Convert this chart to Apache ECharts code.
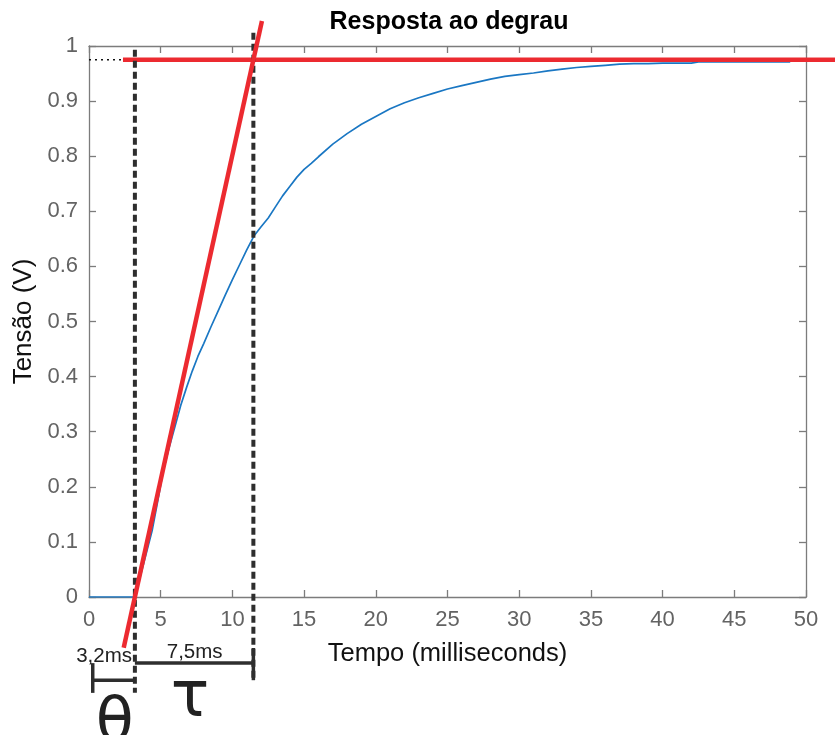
<!DOCTYPE html>
<html>
<head>
<meta charset="utf-8">
<script src="https://cdn.jsdelivr.net/npm/echarts@6/dist/echarts.min.js"></script>
<style>
  html, body { margin: 0; padding: 0; background: #ffffff; }
  #chart { width: 835px; height: 735px; }
</style>
</head>
<body>
<div id="chart"></div>
<script>
// Step response of the plant, sampled voltage (V) against time (ms)
const timeMs = [0, 3.2, 3.6, 4.0, 4.4, 4.8, 5.2, 5.6, 6.0, 6.4, 6.8, 7.2, 7.6, 8.0, 8.5, 9.0, 9.5,
  10.0, 10.5, 11.0, 11.5, 12.0, 12.5, 13.0, 13.5, 14.0, 14.5, 15.0, 15.5, 16.0, 17.0, 18.0, 19.0,
  20.0, 21.0, 22.0, 23.0, 24.0, 25.0, 26.0, 27.0, 28.0, 29.0, 30.0, 31.0, 32.0, 33.0, 34.0, 35.0,
  36.0, 37.0, 38.0, 39.0, 40.0, 41.0, 42.0, 42.5, 44.0, 46.0, 48.9];
const voltage = [0, 0, 0.04, 0.08, 0.12, 0.175, 0.232, 0.272, 0.31, 0.348, 0.38, 0.41, 0.437, 0.46, 0.49, 0.519, 0.548,
  0.576, 0.603, 0.630, 0.655, 0.672, 0.688, 0.708, 0.728, 0.745, 0.762, 0.776, 0.787, 0.799, 0.822, 0.841, 0.858,
  0.872, 0.886, 0.897, 0.906, 0.914, 0.922, 0.928, 0.934, 0.940, 0.945, 0.948, 0.951, 0.955, 0.958, 0.961, 0.963,
  0.965, 0.967, 0.968, 0.968, 0.969, 0.969, 0.969, 0.971, 0.971, 0.971, 0.971];

// Tangent method parameters
const theta = 3.2;            // dead time (ms)
const steadyState = 0.975;    // final value (V)
const tangentSlope = 0.118;   // slope of the tangent at the inflection (V/ms)
const tangentRange = [2.42, 12.06];
const steadyStart = 2.37;     // where the final value line begins (ms)
const thetaLabel = '3,2ms';
const tauLabel = '7,5ms';

// Axis ticks
const xTicks = [0, 5, 10, 15, 20, 25, 30, 35, 40, 45, 50];
const yTicks = [0, 0.1, 0.2, 0.3, 0.4, 0.5, 0.6, 0.7, 0.8, 0.9, 1];

const tauEnd = theta + steadyState / tangentSlope;
const tangentAt = x => tangentSlope * (x - theta);
const xMax = xTicks[xTicks.length - 1];

const FONT = '"Liberation Sans", Arial, Helvetica, sans-serif';
const SYMBOL_FONT = '"DejaVu Sans", "Liberation Sans", sans-serif';
const chart = echarts.init(document.getElementById('chart'), null, { renderer: 'canvas' });

const axisGray = '#7c7c7c';
const labelGray = '#636363';
const darkDash = '#2e2e2e';
const red = '#ec2a30';

function seg(points, style, z) {
  return {
    type: 'line', data: points, showSymbol: false, symbol: 'none', clip: false,
    silent: true, z: z, lineStyle: style, animation: false
  };
}

const option = {
  animation: false,
  backgroundColor: '#ffffff',
  title: {
    text: 'Resposta ao degrau',
    left: 444, top: 5, textAlign: 'center',
    textStyle: { fontFamily: FONT, fontWeight: 'bold', fontSize: 25, color: '#000' }
  },
  grid: { left: 89, top: 46, right: 29, bottom: 138, containLabel: false },
  xAxis: [{
    type: 'value', min: xTicks[0], max: xMax, interval: 5,
    name: 'Tempo (milliseconds)', nameLocation: 'middle', nameGap: 44,
    nameTextStyle: { fontFamily: FONT, fontSize: 25.5, color: '#111' },
    axisLine: { show: true, onZero: false, lineStyle: { color: axisGray, width: 1.3 } },
    axisTick: { show: true, inside: true, length: 7, lineStyle: { color: axisGray, width: 1.3 } },
    axisLabel: { fontFamily: FONT, fontSize: 22, color: labelGray, margin: 12 },
    splitLine: { show: false }
  }, {
    type: 'value', position: 'top', min: xTicks[0], max: xMax, interval: 5,
    axisLine: { show: true, onZero: false, lineStyle: { color: axisGray, width: 1.3 } },
    axisTick: { show: true, inside: true, length: 7, lineStyle: { color: axisGray, width: 1.3 } },
    axisLabel: { show: false }, splitLine: { show: false }
  }],
  yAxis: [{
    type: 'value', min: yTicks[0], max: yTicks[yTicks.length - 1], interval: 0.1,
    name: 'Tensão (V)', nameLocation: 'middle', nameGap: 52, nameMoveOverlap: false,
    nameTextStyle: { fontFamily: FONT, fontSize: 26, color: '#111' },
    axisLine: { show: true, onZero: false, lineStyle: { color: axisGray, width: 1.3 } },
    axisTick: { show: true, inside: true, length: 7, lineStyle: { color: axisGray, width: 1.3 } },
    axisLabel: {
      fontFamily: FONT, fontSize: 22, color: labelGray, margin: 11,
      formatter: v => (Math.round(v * 10) / 10).toString()
    },
    splitLine: { show: false }
  }, {
    type: 'value', position: 'right', min: yTicks[0], max: yTicks[yTicks.length - 1], interval: 0.1,
    axisLine: { show: true, onZero: false, lineStyle: { color: axisGray, width: 1.3 } },
    axisTick: { show: true, inside: true, length: 7, lineStyle: { color: axisGray, width: 1.3 } },
    axisLabel: { show: false }, splitLine: { show: false }
  }],
  series: [
    // measured response
    {
      type: 'line', name: 'Resposta', data: timeMs.map((t, i) => [t, voltage[i]]),
      showSymbol: false, symbol: 'none', z: 2,
      lineStyle: { color: '#1a77c3', width: 1.7 }
    },
    // final value line inside the frame and its dotted lead-in
    seg([[steadyStart, steadyState], [xMax, steadyState]], { color: red, width: 4.5 }, 3),
    seg([[0, steadyState], [steadyStart, steadyState]], { color: '#111', width: 1.6, type: [2, 4] }, 3),
    // dead time and tangent crossing markers
    seg([[theta, 0.993], [theta, -0.174]], { color: darkDash, width: 4, type: [7, 4] }, 4),
    seg([[tauEnd, 1.024], [tauEnd, -0.151]], { color: darkDash, width: 4, type: [7, 4] }, 4),
    // tangent line
    seg(tangentRange.map(x => [x, tangentAt(x)]), { color: red, width: 4.5 }, 5),
    // brackets for theta and tau
    seg([[0.26, -0.151], [theta, -0.151]], { color: darkDash, width: 3.5 }, 4),
    seg([[0.26, -0.12], [0.26, -0.174]], { color: darkDash, width: 3.5 }, 4),
    seg([[theta, -0.1198], [tauEnd, -0.1198]], { color: darkDash, width: 3.5 }, 4),
    seg([[tauEnd, -0.0926], [tauEnd, -0.151]], { color: darkDash, width: 3.5 }, 4)
  ]
};

chart.setOption(option);

const toPx = v => chart.convertToPixel({ xAxisIndex: 0, yAxisIndex: 0 }, v);

// Annotation texts placed in data coordinates
const notes = [
  { text: thetaLabel, at: [1.05, -0.107], font: '20.5px ' + FONT },
  { text: tauLabel, at: [7.37, -0.101], font: '20.5px ' + FONT },
  { text: 'θ', at: [1.8, -0.232], font: '62px ' + SYMBOL_FONT },
  { text: 'τ', at: [7.04, -0.186], font: '64px ' + SYMBOL_FONT }
];
const graphics = notes.map(n => {
  const p = toPx(n.at);
  return {
    type: 'text', z: 10, silent: true,
    style: {
      text: n.text, x: p[0], y: p[1], align: 'center', verticalAlign: 'middle',
      font: n.font, fill: '#222'
    }
  };
});

// final value line continues past the right frame to the edge of the canvas
const edgeStart = toPx([xMax, steadyState]);
graphics.push({
  type: 'line', z: 3, silent: true,
  shape: { x1: edgeStart[0], y1: edgeStart[1], x2: chart.getWidth(), y2: edgeStart[1] },
  style: { stroke: red, lineWidth: 4.5 }
});

chart.setOption({ graphic: graphics });
</script>
</body>
</html>
